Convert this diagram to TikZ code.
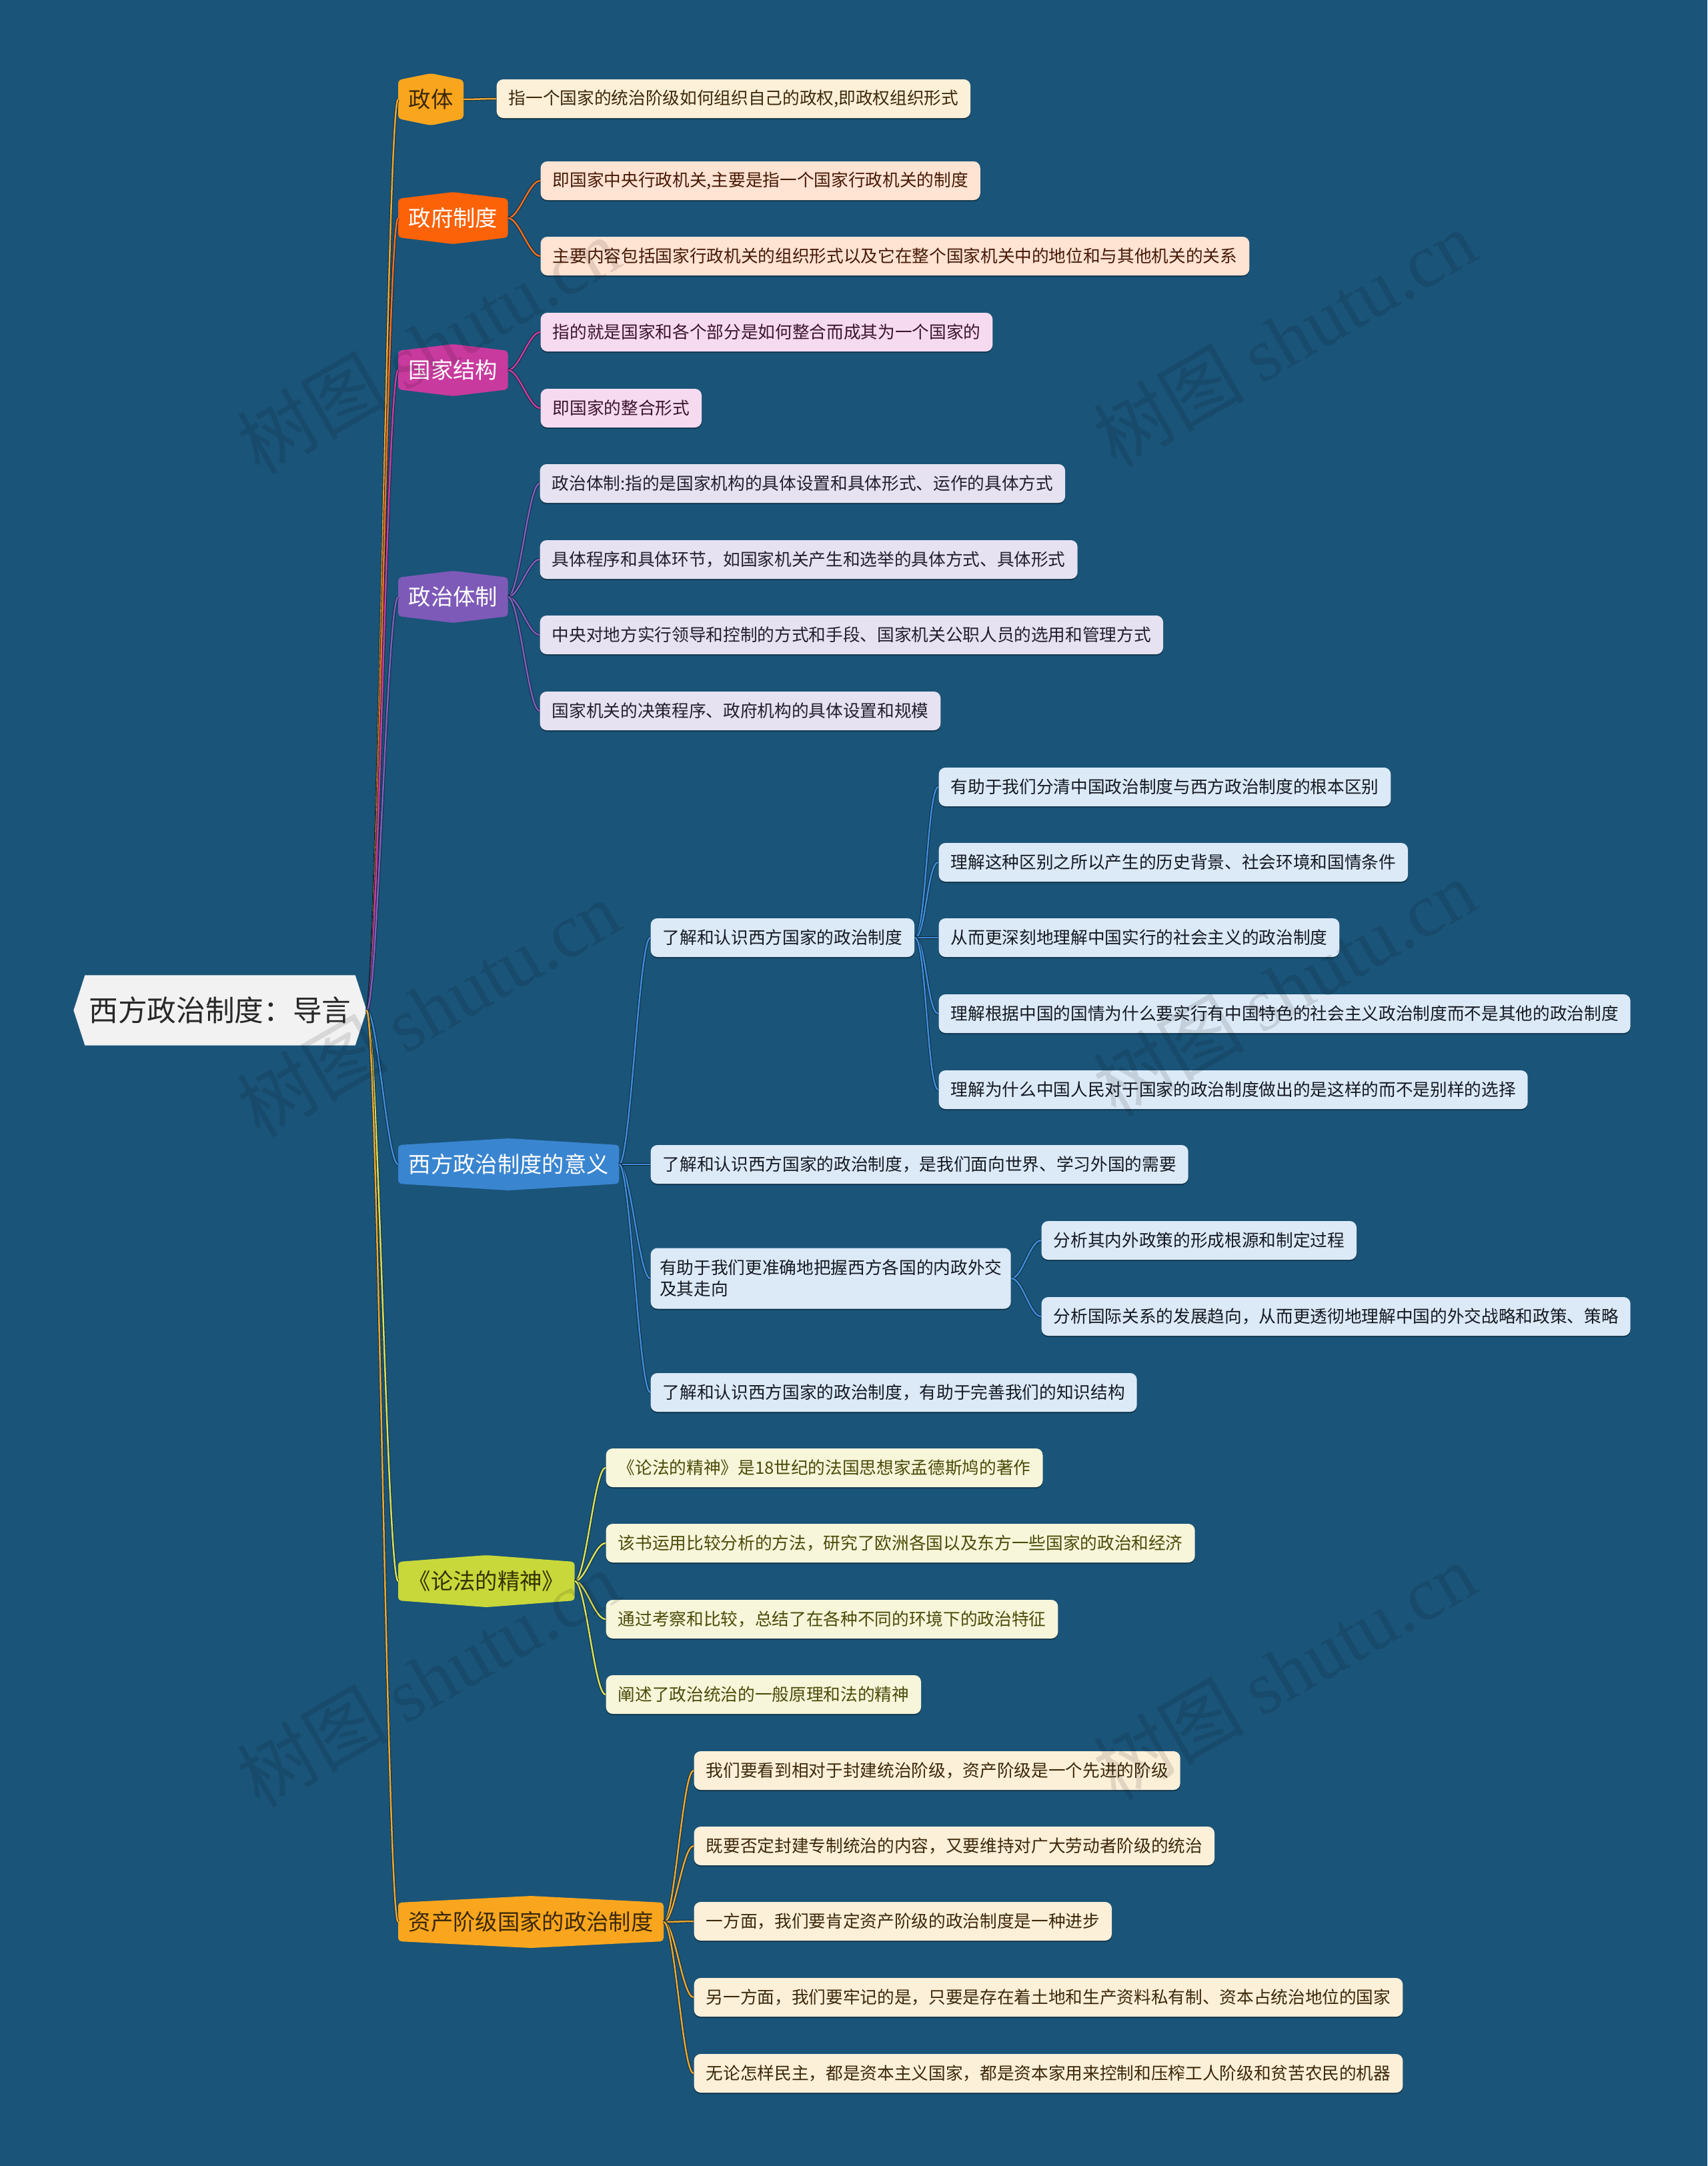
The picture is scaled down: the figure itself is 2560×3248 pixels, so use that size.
\documentclass[tikz,border=0pt]{standalone}
\usepackage{fontspec}
\setmainfont{Noto Sans CJK SC}
\newfontfamily\wmlatin{Liberation Serif}
\usetikzlibrary{calc,shadows}
\pgfdeclarelayer{back}
\pgfdeclarelayer{bg}
\pgfsetlayers{back,bg,main}
\definecolor{bgc}{RGB}{26,84,121}
\definecolor{rootfill}{RGB}{242,242,242}
\definecolor{roottext}{RGB}{40,40,40}
% branch 1 / 7 amber
\definecolor{aFill}{RGB}{249,166,30}
\definecolor{aText}{RGB}{60,40,10}
\definecolor{aLeaf}{RGB}{253,240,217}
\definecolor{aLine}{RGB}{234,168,52}
% branch 2 orange
\definecolor{bFill}{RGB}{252,98,8}
\definecolor{bLeaf}{RGB}{255,227,211}
\definecolor{bLine}{RGB}{240,112,36}
\definecolor{bText}{RGB}{70,25,5}
% branch 3 magenta
\definecolor{cFill}{RGB}{200,58,158}
\definecolor{cLeaf}{RGB}{246,219,240}
\definecolor{cLine}{RGB}{200,62,160}
\definecolor{cText}{RGB}{60,20,45}
% branch 4 purple
\definecolor{dFill}{RGB}{126,90,184}
\definecolor{dLeaf}{RGB}{231,226,241}
\definecolor{dLine}{RGB}{128,94,190}
\definecolor{dText}{RGB}{35,30,45}
% branch 5 blue
\definecolor{eFill}{RGB}{58,133,208}
\definecolor{eLeaf}{RGB}{220,234,247}
\definecolor{eLine}{RGB}{62,140,217}
\definecolor{eText}{RGB}{20,25,35}
% branch 6 yellow green
\definecolor{fFill}{RGB}{200,216,58}
\definecolor{fLeaf}{RGB}{247,246,218}
\definecolor{fLine}{RGB}{216,224,92}
\definecolor{fText}{RGB}{75,75,10}
\definecolor{fNodeText}{RGB}{50,50,0}
\tikzset{
  leafbox/.style={anchor=west, rounded corners=3pt, minimum height=17.4pt,
    inner xsep=5.4pt, inner ysep=2pt, font=\fontsize{7.7pt}{9.6pt}\selectfont,
    drop shadow={shadow xshift=0pt, shadow yshift=-0.6pt, opacity=0.35, fill=black}},
  leafA/.style={leafbox, fill=aLeaf, text=aText},
  leafB/.style={leafbox, fill=bLeaf, text=bText},
  leafC/.style={leafbox, fill=cLeaf, text=cText},
  leafD/.style={leafbox, fill=dLeaf, text=dText},
  leafE/.style={leafbox, fill=eLeaf, text=eText},
  leafF/.style={leafbox, fill=fLeaf, text=fText},
  lvlone/.style={anchor=west, minimum height=17pt, inner xsep=4.5pt, inner ysep=1pt,
    font=\fontsize{10pt}{12pt}\selectfont},
  rootnode/.style={minimum height=31.2pt, minimum width=131.4pt, inner sep=0pt,
    font=\fontsize{13.1pt}{15pt}\selectfont, text=roottext},
  wmark/.style={rotate=30, text=black, opacity=0.11, font=\fontsize{34pt}{36pt}\selectfont}
}
\newcommand\lone[5]{%
  \node[lvlone, text=#4] (#1) at (597,#2) {#5};
  \begin{pgfonlayer}{bg}
  \fill[#3, rounded corners=1.5pt] (#1.south west) -- (#1.north west) -- ([yshift=3pt]#1.north)
     -- (#1.north east) -- (#1.south east) -- ([yshift=-3pt]#1.south) -- cycle;
  \end{pgfonlayer}}
\newcommand\lnk[3]{%
  \begin{pgfonlayer}{bg}
  \draw[black!55!bgc, line width=1.3pt] (#2) .. controls ([xshift=5pt]#2) and ([xshift=-5pt]#3) .. (#3);
  \draw[#1, line width=0.75pt] (#2) .. controls ([xshift=5pt]#2) and ([xshift=-5pt]#3) .. (#3);
  \end{pgfonlayer}}
\begin{document}
\begin{tikzpicture}[x=0.3pt,y=-0.3pt]
\begin{pgfonlayer}{back}
\fill[bgc] (0,0) rectangle (2560,3248);
\end{pgfonlayer}
\useasboundingbox (0,0) rectangle (2560,3248);

% root
\node[rootnode] (root) at (330,1515) {西方政治制度：导言};
\begin{pgfonlayer}{bg}
\fill[rootfill] ([xshift=5.1pt]root.north west) -- ([xshift=-5.1pt]root.north east) -- (root.east)
  -- ([xshift=-5.1pt]root.south east) -- ([xshift=5.1pt]root.south west) -- (root.west) -- cycle;
\end{pgfonlayer}

% level one
\lone{n1}{149}{aFill}{aText}{政体}
\lone{n2}{327}{bFill}{white}{政府制度}
\lone{n3}{555}{cFill}{white}{国家结构}
\lone{n4}{895}{dFill}{white}{政治体制}
\lone{n5}{1746}{eFill}{white}{西方政治制度的意义}
\lone{n6}{2371}{fFill}{fNodeText}{《论法的精神》}
\lone{n7}{2882}{aFill}{aText}{资产阶级国家的政治制度}

% leaves branch 1
\node[leafA] (l11) at (744,148) {指一个国家的统治阶级如何组织自己的政权,即政权组织形式};
% branch 2
\node[leafB] (l21) at (810,271) {即国家中央行政机关,主要是指一个国家行政机关的制度};
\node[leafB] (l22) at (810,384) {主要内容包括国家行政机关的组织形式以及它在整个国家机关中的地位和与其他机关的关系};
% branch 3
\node[leafC] (l31) at (810,498) {指的就是国家和各个部分是如何整合而成其为一个国家的};
\node[leafC] (l32) at (810,612) {即国家的整合形式};
% branch 4
\node[leafD] (l41) at (809,725) {政治体制:指的是国家机构的具体设置和具体形式、运作的具体方式};
\node[leafD] (l42) at (809,839) {具体程序和具体环节，如国家机关产生和选举的具体方式、具体形式};
\node[leafD] (l43) at (809,952) {中央对地方实行领导和控制的方式和手段、国家机关公职人员的选用和管理方式};
\node[leafD] (l44) at (809,1066) {国家机关的决策程序、政府机构的具体设置和规模};
% branch 5
\node[leafE] (l51) at (975,1406) {了解和认识西方国家的政治制度};
\node[leafE] (l511) at (1407,1180) {有助于我们分清中国政治制度与西方政治制度的根本区别};
\node[leafE] (l512) at (1407,1293) {理解这种区别之所以产生的历史背景、社会环境和国情条件};
\node[leafE] (l513) at (1407,1406) {从而更深刻地理解中国实行的社会主义的政治制度};
\node[leafE] (l514) at (1407,1520) {理解根据中国的国情为什么要实行有中国特色的社会主义政治制度而不是其他的政治制度};
\node[leafE] (l515) at (1407,1634) {理解为什么中国人民对于国家的政治制度做出的是这样的而不是别样的选择};
\node[leafE] (l52) at (975,1746) {了解和认识西方国家的政治制度，是我们面向世界、学习外国的需要};
\node[leafE, align=left, minimum height=27.3pt, inner xsep=4pt] (l53) at (975,1917) {有助于我们更准确地把握西方各国的内政外交\\及其走向};
\node[leafE] (l531) at (1561,1860) {分析其内外政策的形成根源和制定过程};
\node[leafE] (l532) at (1561,1974) {分析国际关系的发展趋向，从而更透彻地理解中国的外交战略和政策、策略};
\node[leafE] (l54) at (975,2088) {了解和认识西方国家的政治制度，有助于完善我们的知识结构};
% branch 6
\node[leafF] (l61) at (908,2201) {《论法的精神》是18世纪的法国思想家孟德斯鸠的著作};
\node[leafF] (l62) at (908,2314) {该书运用比较分析的方法，研究了欧洲各国以及东方一些国家的政治和经济};
\node[leafF] (l63) at (908,2428) {通过考察和比较，总结了在各种不同的环境下的政治特征};
\node[leafF] (l64) at (908,2541) {阐述了政治统治的一般原理和法的精神};
% branch 7
\node[leafA] (l71) at (1040,2655) {我们要看到相对于封建统治阶级，资产阶级是一个先进的阶级};
\node[leafA] (l72) at (1040,2768) {既要否定封建专制统治的内容，又要维持对广大劳动者阶级的统治};
\node[leafA] (l73) at (1040,2881) {一方面，我们要肯定资产阶级的政治制度是一种进步};
\node[leafA] (l74) at (1040,2995) {另一方面，我们要牢记的是，只要是存在着土地和生产资料私有制、资本占统治地位的国家};
\node[leafA] (l75) at (1040,3109) {无论怎样民主，都是资本主义国家，都是资本家用来控制和压榨工人阶级和贫苦农民的机器};

% trunk connectors
\lnk{aLine}{root.east}{n1.west}
\lnk{bLine}{root.east}{n2.west}
\lnk{cLine}{root.east}{n3.west}
\lnk{dLine}{root.east}{n4.west}
\lnk{eLine}{root.east}{n5.west}
\lnk{fLine}{root.east}{n6.west}
\lnk{aLine}{root.east}{n7.west}

% branch connectors
\lnk{aLine}{n1.east}{l11.west}
\lnk{bLine}{n2.east}{l21.west}
\lnk{bLine}{n2.east}{l22.west}
\lnk{cLine}{n3.east}{l31.west}
\lnk{cLine}{n3.east}{l32.west}
\lnk{dLine}{n4.east}{l41.west}
\lnk{dLine}{n4.east}{l42.west}
\lnk{dLine}{n4.east}{l43.west}
\lnk{dLine}{n4.east}{l44.west}
\lnk{eLine}{n5.east}{l51.west}
\lnk{eLine}{n5.east}{l52.west}
\lnk{eLine}{n5.east}{l53.west}
\lnk{eLine}{n5.east}{l54.west}
\lnk{eLine}{l51.east}{l511.west}
\lnk{eLine}{l51.east}{l512.west}
\lnk{eLine}{l51.east}{l513.west}
\lnk{eLine}{l51.east}{l514.west}
\lnk{eLine}{l51.east}{l515.west}
\lnk{eLine}{l53.east}{l531.west}
\lnk{eLine}{l53.east}{l532.west}
\lnk{fLine}{n6.east}{l61.west}
\lnk{fLine}{n6.east}{l62.west}
\lnk{fLine}{n6.east}{l63.west}
\lnk{fLine}{n6.east}{l64.west}
\lnk{aLine}{n7.east}{l71.west}
\lnk{aLine}{n7.east}{l72.west}
\lnk{aLine}{n7.east}{l73.west}
\lnk{aLine}{n7.east}{l74.west}
\lnk{aLine}{n7.east}{l75.west}

% watermarks
\node[wmark] (w1) at (642,518) {树图 {\wmlatin shutu.cn}};
\node[wmark] (w2) at (1926,507) {树图 {\wmlatin shutu.cn}};
\node[wmark] (w3) at (642,1512) {树图 {\wmlatin shutu.cn}};
\node[wmark] (w4) at (1926,1481) {树图 {\wmlatin shutu.cn}};
\node[wmark] (w5) at (642,2517) {树图 {\wmlatin shutu.cn}};
\node[wmark] (w6) at (1926,2506) {树图 {\wmlatin shutu.cn}};
\end{tikzpicture}
\end{document}
